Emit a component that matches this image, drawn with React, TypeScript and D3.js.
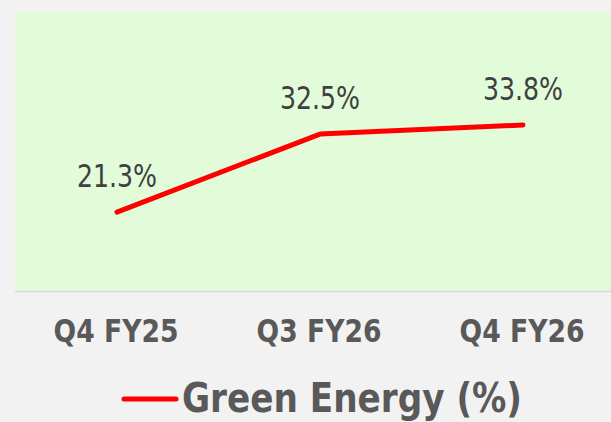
import React from "react";
import * as d3 from "d3";

const categories = ["Q4 FY25", "Q3 FY26", "Q4 FY26"];
const greenEnergy = [21.3, 32.5, 33.8];
const valueLabels = ["21.3%", "32.5%", "33.8%"];
const seriesName = "Green Energy (%)";

const W = 611;
const H = 422;

export default function App() {
  const plotLeft = 15;
  const plotTop = 12;
  const plotBottom = 291;
  const x = d3.scalePoint<string>().domain(categories).range([117, 523]);
  const y = d3.scaleLinear().domain([10, 50]).range([plotBottom, plotTop]);
  const line = d3
    .line<number>()
    .x((_, i) => x(categories[i]) as number)
    .y((d) => y(d));

  const font = "'DejaVu Sans Condensed', 'DejaVu Sans', sans-serif";

  return (
    <svg
      width={W}
      height={H}
      style={{ position: "absolute", left: 0, top: 0, display: "block" }}
    >
      <rect x={0} y={0} width={W} height={H} fill="#f2f2f2" />
      <rect x={plotLeft} y={plotTop} width={W - plotLeft} height={plotBottom - plotTop} fill="#e2fcd9" />
      <line x1={plotLeft} x2={W} y1={plotBottom + 0.5} y2={plotBottom + 0.5} stroke="#d9d9d9" strokeWidth={1.5} />
      <path
        d={line(greenEnergy) || ""}
        fill="none"
        stroke="#ff0000"
        strokeWidth={5}
        strokeLinecap="round"
        strokeLinejoin="round"
      />
      {greenEnergy.map((v, i) => (
        <text
          key={i}
          x={(x(categories[i]) as number) + 0}
          y={y(v) - 25}
          textAnchor="middle"
          fontFamily={font}
          fontSize={32}
          fill="#404040"
          textLength={80}
          lengthAdjust="spacingAndGlyphs"
        >
          {valueLabels[i]}
        </text>
      ))}
      {categories.map((c) => (
        <text
          key={c}
          x={(x(c) as number) - 1}
          y={342}
          textAnchor="middle"
          fontFamily={font}
          fontWeight="bold"
          fontSize={32}
          fill="#595959"
          textLength={125}
          lengthAdjust="spacingAndGlyphs"
        >
          {c}
        </text>
      ))}
      <line x1={124} x2={176} y1={399} y2={399} stroke="#ff0000" strokeWidth={5} strokeLinecap="round" />
      <text
        x={182}
        y={412}
        fontFamily={font}
        fontWeight="bold"
        fontSize={41}
        fill="#595959"
        textLength={340}
        lengthAdjust="spacingAndGlyphs"
      >
        {seriesName}
      </text>
    </svg>
  );
}
